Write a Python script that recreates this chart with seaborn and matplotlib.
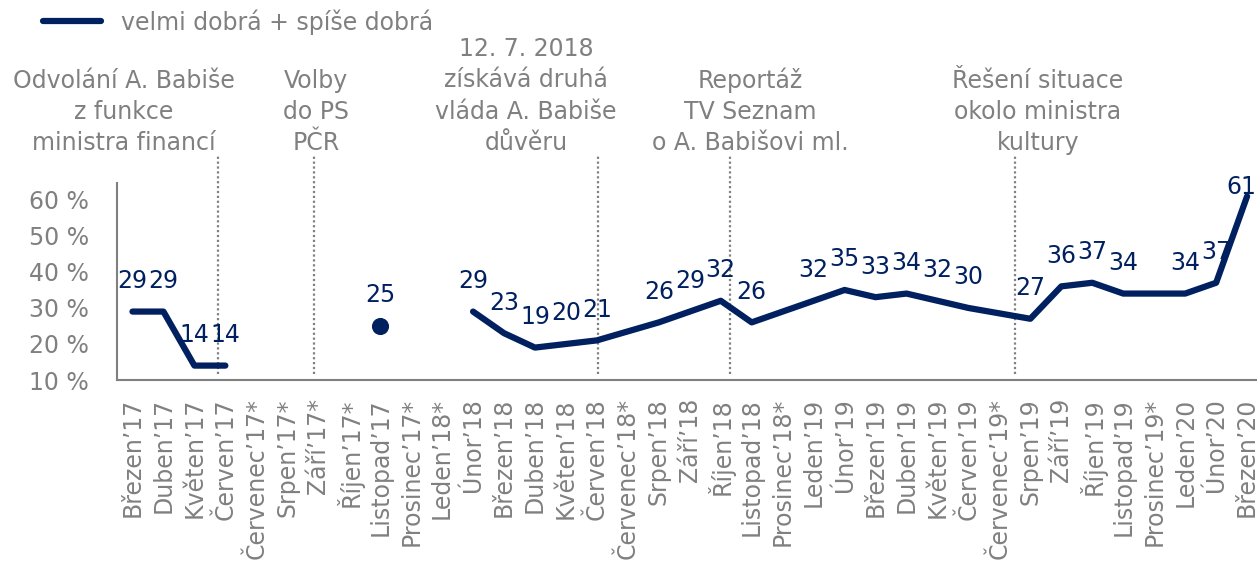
import pandas as pd
import numpy as np
import matplotlib
matplotlib.use("Agg")
import matplotlib.pyplot as plt
from matplotlib.lines import Line2D
import seaborn as sns

months = ["Březen’17", "Duben’17", "Květen’17", "Červen’17", "Červenec’17*", "Srpen’17*",
          "Září’17*", "Říjen’17*", "Listopad’17", "Prosinec’17*", "Leden’18*", "Únor’18",
          "Březen’18", "Duben’18", "Květen’18", "Červen’18", "Červenec’18*", "Srpen’18",
          "Září’18", "Říjen’18", "Listopad’18", "Prosinec’18*", "Leden’19", "Únor’19",
          "Březen’19", "Duben’19", "Květen’19", "Červen’19", "Červenec’19*", "Srpen’19",
          "Září’19", "Říjen’19", "Listopad’19", "Prosinec’19*", "Leden’20", "Únor’20",
          "Březen’20"]
values = [29, 29, 14, 14, np.nan, np.nan, np.nan, np.nan, 25, np.nan, np.nan, 29,
          23, 19, 20, 21, np.nan, 26, 29, 32, 26, np.nan, 32, 35,
          33, 34, 32, 30, np.nan, 27, 36, 37, 34, np.nan, 34, 37, 61]
# 1 = first run, 2 = lone point, 3 = continuous run (gaps bridged)
segment = [1, 1, 1, 1, 0, 0, 0, 0, 2, 0, 0, 3,
           3, 3, 3, 3, 3, 3, 3, 3, 3, 3, 3, 3,
           3, 3, 3, 3, 3, 3, 3, 3, 3, 3, 3, 3, 3]

event_x = [2.75, 5.85, 15.05, 19.3, 28.5]
event_texts = ["Odvolání A. Babiše\nz funkce\nministra financí",
               "Volby\ndo PS\nPČR",
               "12. 7. 2018\nzískává druhá\nvláda A. Babiše\ndůvěru",
               "Reportáž\nTV Seznam\no A. Babišovi ml.",
               "Řešení situace\nokolo ministra\nkultury"]

df = pd.DataFrame({"month": months, "value": values, "segment": segment})
df["pos"] = np.arange(len(df))

navy = "#002060"
grey = "#808080"
fs = 17

sns.set_theme(style="white")
plt.rcParams['font.family'] = ['DejaVu Sans']

fig = plt.figure(figsize=(12.57, 5.61), dpi=100)
ax = fig.add_axes([117 / 1257, 1 - 380 / 561, 1 - 117 / 1257, (380 - 183) / 561])

lines = df[df["segment"].isin([1, 3])].dropna(subset=["value"])
sns.lineplot(data=lines, x="pos", y="value", units="segment", estimator=None,
             color=navy, lw=4.5, ax=ax, zorder=3)
sns.scatterplot(data=df[df["segment"] == 2], x="pos", y="value", color=navy,
                s=130, edgecolor=navy, ax=ax, zorder=3)

# data labels (the top one is pushed inside the plot, as in the original)
for _, r in df.dropna(subset=["value"]).iterrows():
    off = (0, 22) if r["value"] < 55 else (-4, 7)
    ax.annotate(f"{int(r['value'])}", (r["pos"], r["value"]), xytext=off,
                textcoords="offset points", ha="center", va="center",
                fontsize=fs, color=navy, zorder=2)

# event lines and labels
for ex in event_x:
    ax.axvline(ex, color=grey, ls=(0, (1, 1.2)), lw=1.6, clip_on=False, zorder=1)
    ax.lines[-1].set_ydata([0.03, 1.14])

text_pos = [(124, 112), (316, 112), (526, 96), (750, 111), (1038, 112)]
for (tx, ty), t in zip(text_pos, event_texts):
    fig.text(tx / 1257, 1 - ty / 561, t, ha="center", va="center", fontsize=fs,
             color=grey, linespacing=1.38, multialignment="center")

ax.set_xlim(-0.5, 36.32)
ax.set_ylim(10, 64.7)
ax.set_yticks([10, 20, 30, 40, 50, 60])
ax.set_yticklabels([f"{v} %" for v in [10, 20, 30, 40, 50, 60]])
ax.set_xticks(df["pos"])
ax.set_xticklabels(df["month"], rotation=90)
ax.tick_params(axis="both", labelsize=fs, labelcolor=grey, length=0)
ax.tick_params(axis="y", pad=20)
ax.tick_params(axis="x", pad=13)
ax.set_xlabel("")
ax.set_ylabel("")
for s in ["top", "right"]:
    ax.spines[s].set_visible(False)
for s in ["left", "bottom"]:
    ax.spines[s].set_color(grey)
    ax.spines[s].set_linewidth(1.5)

handle = Line2D([0], [0], color=navy, lw=4.5)
fig.legend(handles=[handle], labels=["velmi dobrá + spíše dobrá"],
           loc="center left", bbox_to_anchor=(22 / 1257, 1 - 22 / 561),
           frameon=False, fontsize=fs, labelcolor=grey, handlelength=2.45,
           handletextpad=0.85)

fig.savefig("out.png", dpi=100)
